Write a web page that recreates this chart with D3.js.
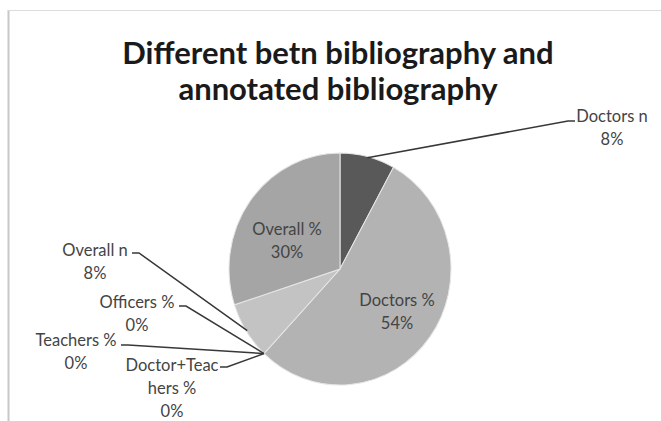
<!DOCTYPE html>
<html>
<head>
<meta charset="utf-8">
<script src="https://cdn.jsdelivr.net/npm/d3@7"></script>
<style>
  html, body { margin: 0; padding: 0; background: #ffffff; }
  svg { display: block; }
</style>
</head>
<body>
<svg id="chart" width="661" height="421"></svg>
<script>
// ---- data ----
const titleLines = ["Different betn bibliography and", "annotated bibliography"];
const categories = ["Doctors n", "Doctors %", "Teachers %", "Doctor+Teachers %", "Officers %", "Overall n", "Overall %"];
const values = [8, 54, 0, 0, 0, 8, 30];
const labelLines = [
  ["Doctors n", "8%"],
  ["Doctors %", "54%"],
  ["Teachers %", "0%"],
  ["Doctor+Teac", "hers %", "0%"],
  ["Officers  %", "0%"],
  ["Overall n", "8%"],
  ["Overall %", "30%"]
];
const sliceColors = ["#595959", "#b3b3b3", "#b8b8b8", "#b8b8b8", "#b8b8b8", "#c3c3c3", "#a5a5a5"];

// ---- layout (positions/styles) ----
const W = 661, H = 421;
const cx = 340, cy = 269, RX = 111, RY = 116;
// label placement: text centre x, first baseline y, leader start point
const labelLayout = [
  { x: 612, y: 122, lead: [575, 121] },
  { x: 397, y: 306, lead: null },
  { x: 76,  y: 346, lead: [121, 345] },
  { x: 172, y: 371, lead: [220, 367] },
  { x: 137, y: 308, lead: [179, 306] },
  { x: 95,  y: 256, lead: [132, 253] },
  { x: 287, y: 235, lead: null }
];

const svg = d3.select("#chart");

// frame
svg.append("line").attr("x1", 8.5).attr("y1", 10).attr("x2", 8.5).attr("y2", H)
  .attr("stroke", "#c8c8c8").attr("stroke-width", 2);
svg.append("line").attr("x1", 8).attr("y1", 10.5).attr("x2", W).attr("y2", 10.5)
  .attr("stroke", "#dcdcdc").attr("stroke-width", 1);

// title
svg.append("g").selectAll("text").data(titleLines).join("text")
  .attr("x", 338).attr("y", (d, i) => 64 + i * 36)
  .attr("text-anchor", "middle")
  .attr("font-family", "Lato, 'Open Sans', sans-serif")
  .attr("font-weight", "bold")
  .attr("font-size", 31)
  .attr("fill", "#1a1a1a")
  .text(d => d);

// pie
const data = categories.map((c, i) => ({ name: c, value: values[i], idx: i }));
const pie = d3.pie().value(d => d.value).sort(null).startAngle(0).endAngle(2 * Math.PI);
const arcs = pie(data);
const arc = d3.arc().innerRadius(0).outerRadius(RX);

const g = svg.append("g").attr("transform", `translate(${cx},${cy}) scale(1,${RY / RX})`);
g.selectAll("path").data(arcs.filter(d => d.value > 0)).join("path")
  .attr("d", arc)
  .attr("fill", d => sliceColors[d.data.idx])
  .attr("stroke", "#e6e6e6")
  .attr("stroke-width", 1);

// leader lines
const leaders = svg.append("g");
arcs.forEach((d, i) => {
  const L = labelLayout[i];
  if (!L.lead) return;
  const mid = (d.startAngle + d.endAngle) / 2;
  const k = d.value > 0 ? 0.99 : 1.0;
  const px = cx + k * RX * Math.sin(mid), py = cy - k * RY * Math.cos(mid);
  const left = L.lead[0] < cx;
  const sx = L.lead[0], sy = L.lead[1];
  const hx = left ? sx + 7 : sx - 7;
  leaders.append("polyline")
    .attr("points", `${sx},${sy} ${hx},${sy} ${px},${py}`)
    .attr("fill", "none")
    .attr("stroke", "#383838")
    .attr("stroke-width", 1.5);
});

// labels
const lg = svg.append("g");
labelLines.forEach((lines, i) => {
  const L = labelLayout[i];
  const t = lg.append("text")
    .attr("text-anchor", "middle")
    .attr("font-family", "Lato, 'Open Sans', sans-serif")
    .attr("font-size", 16.5)
    .attr("fill", "#444444");
  lines.forEach((s, j) => {
    t.append("tspan").attr("x", L.x).attr("y", L.y + j * 23).text(s);
  });
});
</script>
</body>
</html>
